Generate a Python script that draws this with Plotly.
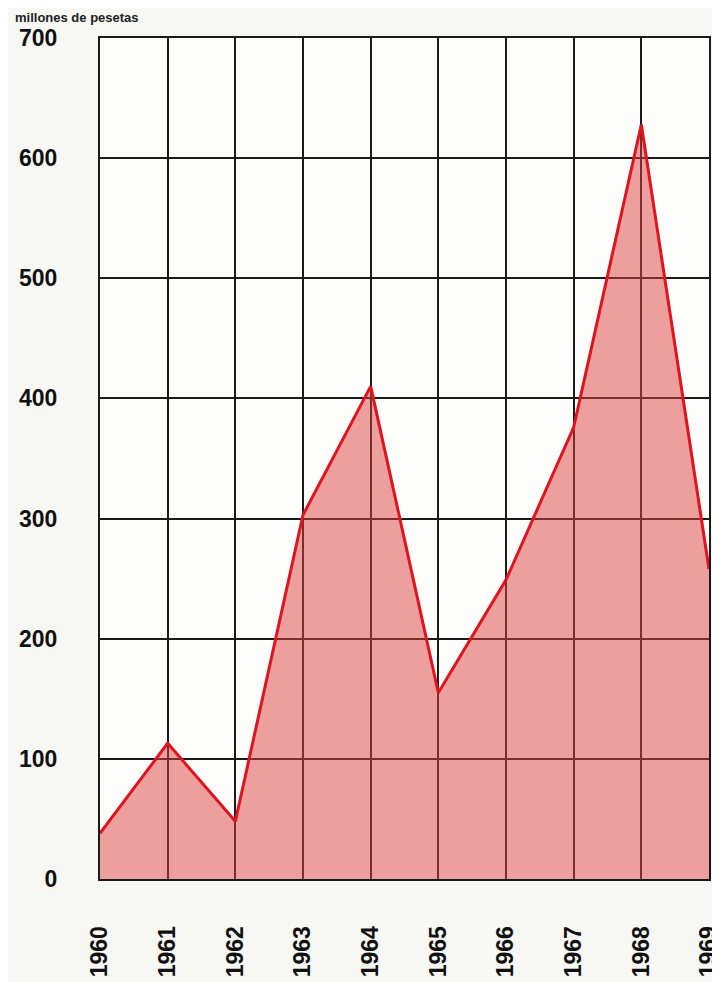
import plotly.graph_objects as go

years = [1960, 1961, 1962, 1963, 1964, 1965, 1966, 1967, 1968, 1969]
values = [38, 113, 48, 303, 410, 155, 249, 376, 628, 258]
y_ticks = [0, 100, 200, 300, 400, 500, 600, 700]
unit_label = "millones de pesetas"

fig = go.Figure()
fig.add_trace(go.Scatter(
    x=years, y=values, mode="lines", fill="tozeroy",
    fillcolor="rgba(221,65,65,0.5)",
    line=dict(color="#e0141e", width=3),
    hoverinfo="x+y",
))

# the page body has an 8px margin, so the margins are shifted to compensate
fig.update_layout(
    width=720, height=982,
    margin=dict(l=92, r=19, t=30, b=111),
    paper_bgcolor="#f7f7f4",
    plot_bgcolor="#fdfdfb",
    showlegend=False,
    font=dict(family="Liberation Sans, Arial, sans-serif", color="#111111"),
    annotations=[dict(
        text="<b>" + unit_label + "</b>", xref="paper", yref="paper",
        x=-0.143, y=1.013, xanchor="left", yanchor="bottom",
        showarrow=False, font=dict(size=13, color="#222222"),
    )],
)

fig.update_xaxes(
    range=[1960, 1969], tickvals=years, ticktext=["<b>%d</b>" % y for y in years],
    tickangle=-90, tickfont=dict(size=23), automargin=False,
    showgrid=True, gridcolor="#1a1a1a", gridwidth=2,
    showline=True, linecolor="#1a1a1a", linewidth=2, mirror=True,
    ticks="outside", ticklen=36, tickcolor="rgba(0,0,0,0)",
    zeroline=False,
)
fig.update_yaxes(
    range=[0, 700], tickvals=y_ticks, ticktext=["<b>%d</b>" % v for v in y_ticks],
    tickfont=dict(size=23), automargin=False,
    showgrid=True, gridcolor="#1a1a1a", gridwidth=2,
    showline=True, linecolor="#1a1a1a", linewidth=2, mirror=True,
    ticks="outside", ticklen=36, tickcolor="rgba(0,0,0,0)",
    zeroline=False,
)

fig.write_html("out.html")
